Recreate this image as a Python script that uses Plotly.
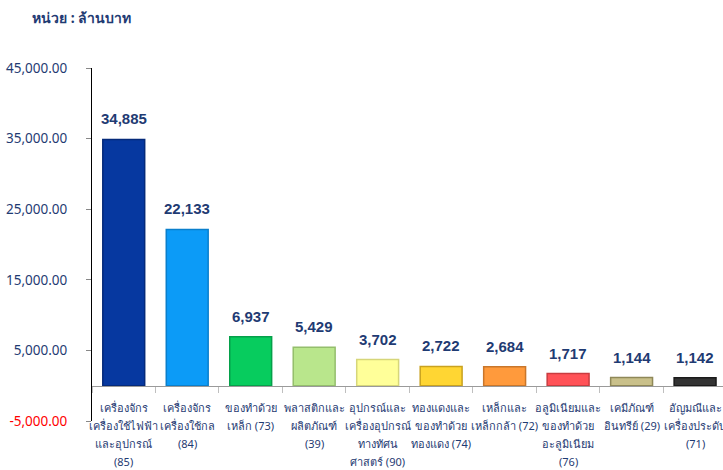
import plotly.graph_objects as go

categories = [
    "เครื่องจักร<br>เครื่องใช้ไฟฟ้า<br>และอุปกรณ์<br>(85)",
    "เครื่องจักร<br>เครื่องใช้กล<br>(84)",
    "ของทำด้วย<br>เหล็ก (73)",
    "พลาสติกและ<br>ผลิตภัณฑ์<br>(39)",
    "อุปกรณ์และ<br>เครื่องอุปกรณ์<br>ทางทัศน<br>ศาสตร์ (90)",
    "ทองแดงและ<br>ของทำด้วย<br>ทองแดง (74)",
    "เหล็กและ<br>เหล็กกล้า (72)",
    "อลูมิเนียมและ<br>ของทำด้วย<br>อะลูมิเนียม<br>(76)",
    "เคมีภัณฑ์<br>อินทรีย์ (29)",
    "อัญมณีและ<br>เครื่องประดับ<br>(71)",
]
values = [34885, 22133, 6937, 5429, 3702, 2722, 2684, 1717, 1144, 1142]
bar_colors = ["#0638A0", "#0C9BF7", "#07CC5E", "#B9E68C", "#FFFF99",
              "#FFD633", "#FF9A3C", "#FF5257", "#C9C08A", "#333333"]
edge_colors = ["#052A7A", "#0A7FCC", "#05A04A", "#94BE6C", "#D6D67A",
               "#C9A21F", "#C9762A", "#C93C40", "#8F8858", "#1A1A1A"]
y_ticks = [-5000, 5000, 15000, 25000, 35000, 45000]

navy = "#1F3B73"
font = "Tahoma, 'Noto Sans', 'DejaVu Sans', sans-serif"

y_text = []
for v in y_ticks:
    s = f"{v:,.2f}"
    if v < 0:
        s = f"<span style='color:#FF0000'>{s}</span>"
    y_text.append(s)

fig = go.Figure()
fig.add_trace(go.Bar(
    x=categories,
    y=values,
    marker=dict(color=bar_colors, line=dict(color=edge_colors, width=1.5)),
    hoverinfo="x+y",
))

annotations = []
# ป้ายค่าบนแท่ง
for cat, v in zip(categories, values):
    annotations.append(dict(
        x=cat, y=v, xref="x", yref="y", text=f"<b>{v:,.0f}</b>",
        showarrow=False, yanchor="bottom", yshift=10,
        font=dict(size=15, color=navy, family="Arial, 'Liberation Sans', sans-serif"),
    ))
# ชื่อหมวดใต้แกน (ระยะบรรทัดกว้างกว่าค่าเริ่มต้นของ plotly)
for cat in categories:
    for k, line in enumerate(cat.split("<br>")):
        annotations.append(dict(
            x=cat, y=0, xref="x", yref="y", text=line,
            showarrow=False, yanchor="middle", yshift=-22 - 18 * k,
            font=dict(size=11, color=navy),
        ))
annotations.append(dict(
    text="<b>หน่วย : ล้านบาท</b>", xref="paper", yref="paper",
    x=-0.098, y=1.144, xanchor="left", yanchor="middle", showarrow=False,
    font=dict(size=14, color=navy),
))

fig.update_layout(
    width=723, height=470,
    margin=dict(l=92, r=0, t=68, b=49),
    plot_bgcolor="white",
    paper_bgcolor="white",
    showlegend=False,
    bargap=0.34,
    font=dict(family=font, color=navy),
    xaxis=dict(
        range=[-0.5, 9.44],
        anchor="free", position=0.1,
        showline=True, linecolor="#9A9A9A", linewidth=1,
        ticks="outside", tickson="boundaries", ticklen=6, tickcolor="#BFBFBF",
        showticklabels=False, automargin=False,
        showgrid=False,
    ),
    yaxis=dict(
        range=[-5000, 45000],
        tickvals=y_ticks, ticktext=y_text,
        showline=True, linecolor="black", linewidth=1,
        ticks="outside", ticklen=5, tickcolor="#888888",
        tickfont=dict(size=13.5, color=navy),
        showgrid=False, zeroline=False, automargin=False,
        ticklabelstandoff=16,
    ),
    annotations=annotations,
)

fig.write_html("out.html", config={"displayModeBar": False},
               post_script="document.body.style.margin='0';")
